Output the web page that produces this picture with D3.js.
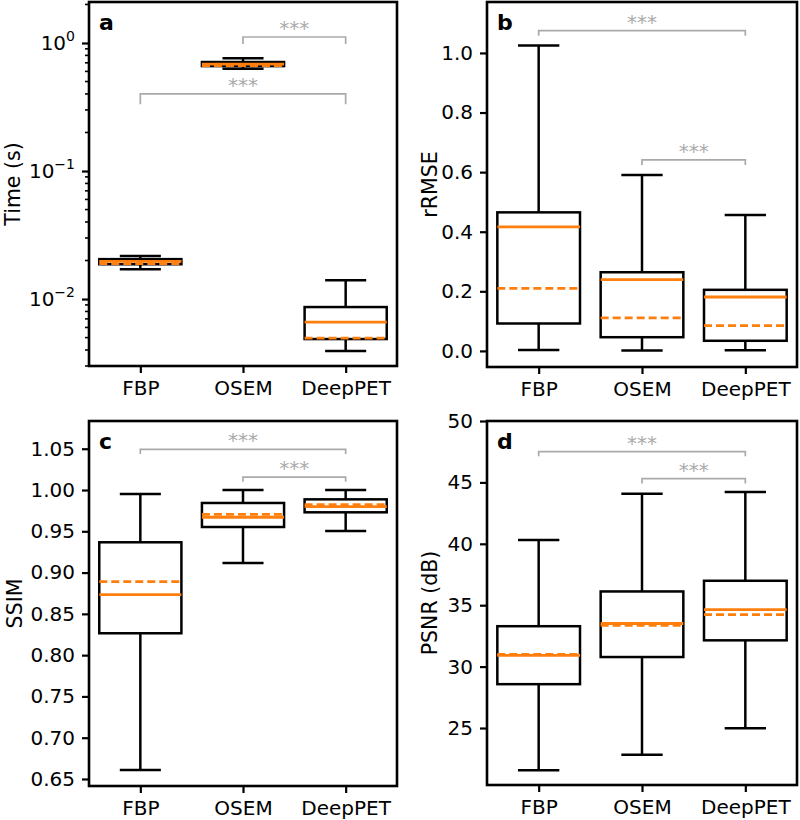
<!DOCTYPE html>
<html>
<head>
<meta charset="utf-8">
<script src="https://cdn.jsdelivr.net/npm/d3@7"></script>
<style>
  html, body { margin: 0; padding: 0; background: #fff; }
  svg text { font-family: "DejaVu Sans", Verdana, sans-serif; }
</style>
</head>
<body>
<svg id="chart" width="800" height="820"></svg>
<script>
// ---------------- data ----------------
const methods = ["FBP", "OSEM", "DeepPET"];
// per method: [whiskerLow, q1, median, q3, whiskerHigh, mean]
const timeStats = [
  [0.0171, 0.0187, 0.0197, 0.0205, 0.0217, 0.0189],
  [0.63, 0.66, 0.685, 0.71, 0.76, 0.665],
  [0.00393, 0.00487, 0.0066, 0.00866, 0.01405, 0.00496]
];
const rmseStats = [
  [0.003, 0.092, 0.416, 0.465, 1.025, 0.210],
  [0.001, 0.046, 0.239, 0.264, 0.590, 0.111],
  [0.002, 0.034, 0.181, 0.205, 0.456, 0.085]
];
const ssimStats = [
  [0.661, 0.8265, 0.8733, 0.9367, 0.9952, 0.889],
  [0.9116, 0.9552, 0.967, 0.9843, 1.0, 0.9706],
  [0.9503, 0.973, 0.9798, 0.9887, 1.0, 0.9822]
];
const psnrStats = [
  [21.56, 28.57, 30.92, 33.29, 40.31, 31.0],
  [22.83, 30.78, 33.51, 36.12, 44.08, 33.35],
  [24.98, 32.14, 34.64, 36.99, 44.21, 34.24]
];
// tick labels
const timeTicks = [0.01, 0.1, 1];
const timeTickExp = ["\u22122", "\u22121", "0"];
const rmseTicks = [0.0, 0.2, 0.4, 0.6, 0.8, 1.0];
const ssimTicks = [0.65, 0.70, 0.75, 0.80, 0.85, 0.90, 0.95, 1.00, 1.05];
const psnrTicks = [25, 30, 35, 40, 45, 50];
// significance brackets: [fromIndex, toIndex, barValue, legValue, label]
const timeBrackets = [[1, 2, 1.114, 0.982, "***"], [0, 2, 0.400, 0.333, "***"]];
const rmseBrackets = [[0, 2, 1.075, 1.058, "***"], [1, 2, 0.641, 0.624, "***"]];
const ssimBrackets = [[0, 2, 1.0493, 1.0436, "***"], [1, 2, 1.0157, 1.0101, "***"]];
const psnrBrackets = [[0, 2, 47.5, 47.13, "***"], [1, 2, 45.3, 44.92, "***"]];

// ---------------- layout ----------------
const ORANGE = "#ff7f0e";
const GRAY = "#aaaaaa";
const svg = d3.select("#chart");

const panels = [
  { letter: "a", stats: timeStats, ticks: timeTicks, brackets: timeBrackets, ylabel: "Time (s)",
    log: true, domain: [0.00300, 2.09], left: 89, right: 397, top: 2, bottom: 366, labelX: 20 },
  { letter: "b", stats: rmseStats, ticks: rmseTicks, brackets: rmseBrackets, ylabel: "rRMSE",
    log: false, domain: [-0.054, 1.171], fmt: d3.format(".1f"), left: 487, right: 797, top: 2, bottom: 367, labelX: 437 },
  { letter: "c", stats: ssimStats, ticks: ssimTicks, brackets: ssimBrackets, ylabel: "SSIM",
    log: false, domain: [0.6415, 1.0836], fmt: d3.format(".2f"), left: 89, right: 397, top: 421, bottom: 786, labelX: 22 },
  { letter: "d", stats: psnrStats, ticks: psnrTicks, brackets: psnrBrackets, ylabel: "PSNR (dB)",
    log: false, domain: [20.36, 50], fmt: d3.format("d"), left: 487, right: 797, top: 421, bottom: 785, labelX: 437 }
];

panels.forEach(p => {
  const x = d3.scaleLinear().domain([0.5, 3.5]).range([p.left, p.right]);
  const y = (p.log ? d3.scaleLog() : d3.scaleLinear()).domain(p.domain).range([p.bottom, p.top]);
  const g = svg.append("g");

  // y axis
  const yAxis = d3.axisLeft(y).tickValues(p.ticks).tickSize(7).tickPadding(7)
    .tickFormat(p.log ? () => "" : p.fmt);
  const ya = g.append("g").attr("transform", `translate(${p.left},0)`).call(yAxis);
  ya.select(".domain").remove();
  ya.selectAll(".tick line").attr("stroke", "#000").attr("stroke-width", 2.2);
  ya.selectAll(".tick text").attr("font-size", 20).attr("fill", "#000")
    .attr("font-family", "DejaVu Sans, Verdana, sans-serif");

  if (p.log) {
    // minor ticks
    const minors = [];
    for (let e = -3; e <= 0; e++) {
      for (let m = 2; m <= 9; m++) {
        const v = m * Math.pow(10, e);
        if (v >= p.domain[0] && v <= p.domain[1]) minors.push(v);
      }
    }
    g.append("g").selectAll("line").data(minors).join("line")
      .attr("x1", p.left - 4).attr("x2", p.left)
      .attr("y1", d => y(d)).attr("y2", d => y(d))
      .attr("stroke", "#000").attr("stroke-width", 1.6);
    // labels 10^k
    p.ticks.forEach((t, i) => {
      const tx = g.append("text").attr("x", p.left - 14).attr("y", y(t) + 7)
        .attr("text-anchor", "end").attr("font-size", 20).attr("fill", "#000");
      tx.append("tspan").text("10");
      tx.append("tspan").attr("dy", -9).attr("font-size", 14).text(timeTickExp[i]);
    });
  }

  // x axis
  const xAxis = d3.axisBottom(x).tickValues([1, 2, 3]).tickSize(7).tickPadding(8)
    .tickFormat((d, i) => methods[i]);
  const xa = g.append("g").attr("transform", `translate(0,${p.bottom})`).call(xAxis);
  xa.select(".domain").remove();
  xa.selectAll(".tick line").attr("stroke", "#000").attr("stroke-width", 2.2);
  xa.selectAll(".tick text").attr("font-size", 20).attr("fill", "#000")
    .attr("font-family", "DejaVu Sans, Verdana, sans-serif");

  // boxes
  const bw = 0.4, cw = 0.2, lw = 2.5;
  const boxes = g.append("g").selectAll("g").data(p.stats).join("g");
  boxes.append("line") // whisker low
    .attr("x1", (d, i) => x(i + 1)).attr("x2", (d, i) => x(i + 1))
    .attr("y1", d => y(d[0])).attr("y2", d => y(d[1]))
    .attr("stroke", "#000").attr("stroke-width", lw);
  boxes.append("line") // whisker high
    .attr("x1", (d, i) => x(i + 1)).attr("x2", (d, i) => x(i + 1))
    .attr("y1", d => y(d[3])).attr("y2", d => y(d[4]))
    .attr("stroke", "#000").attr("stroke-width", lw);
  boxes.append("line") // cap low
    .attr("x1", (d, i) => x(i + 1 - cw)).attr("x2", (d, i) => x(i + 1 + cw))
    .attr("y1", d => y(d[0])).attr("y2", d => y(d[0]))
    .attr("stroke", "#000").attr("stroke-width", lw);
  boxes.append("line") // cap high
    .attr("x1", (d, i) => x(i + 1 - cw)).attr("x2", (d, i) => x(i + 1 + cw))
    .attr("y1", d => y(d[4])).attr("y2", d => y(d[4]))
    .attr("stroke", "#000").attr("stroke-width", lw);
  boxes.append("rect")
    .attr("x", (d, i) => x(i + 1 - bw)).attr("width", (d, i) => x(i + 1 + bw) - x(i + 1 - bw))
    .attr("y", d => y(d[3])).attr("height", d => y(d[1]) - y(d[3]))
    .attr("fill", "none").attr("stroke", "#000").attr("stroke-width", lw);
  boxes.append("line") // median
    .attr("x1", (d, i) => x(i + 1 - bw)).attr("x2", (d, i) => x(i + 1 + bw))
    .attr("y1", d => y(d[2])).attr("y2", d => y(d[2]))
    .attr("stroke", ORANGE).attr("stroke-width", 2.8);
  boxes.append("line") // mean (dashed)
    .attr("x1", (d, i) => x(i + 1 - bw)).attr("x2", (d, i) => x(i + 1 + bw))
    .attr("y1", d => y(d[5])).attr("y2", d => y(d[5]))
    .attr("stroke", ORANGE).attr("stroke-width", 2.8).attr("stroke-dasharray", "8,4");

  // significance brackets
  p.brackets.forEach(b => {
    const x1 = x(b[0] + 1), x2 = x(b[1] + 1), yb = y(b[2]), yl = y(b[3]);
    g.append("path")
      .attr("d", `M${x1},${yl}L${x1},${yb}L${x2},${yb}L${x2},${yl}`)
      .attr("fill", "none").attr("stroke", GRAY).attr("stroke-width", 1.7);
    g.append("text").attr("x", (x1 + x2) / 2).attr("y", yb - 2)
      .attr("text-anchor", "middle").attr("font-size", 20).attr("fill", GRAY).text(b[4]);
  });

  // frame
  g.append("rect").attr("x", p.left).attr("y", p.top)
    .attr("width", p.right - p.left).attr("height", p.bottom - p.top)
    .attr("fill", "none").attr("stroke", "#000").attr("stroke-width", 2.6);

  // panel letter
  g.append("text").attr("x", p.left + 10).attr("y", p.top + 28)
    .attr("font-size", 22).attr("font-weight", "bold").attr("fill", "#000").text(p.letter);

  // y label
  g.append("text")
    .attr("transform", `translate(${p.labelX},${(p.top + p.bottom) / 2}) rotate(-90)`)
    .attr("text-anchor", "middle").attr("font-size", 20.5).attr("fill", "#000").text(p.ylabel);
});
</script>
</body>
</html>
